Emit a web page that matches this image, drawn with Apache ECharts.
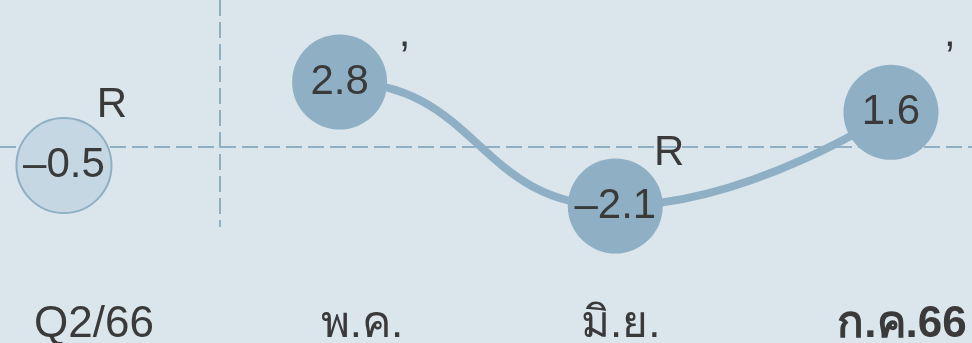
<!DOCTYPE html>
<html lang="th">
<head>
<meta charset="UTF-8">
<title>chart</title>
<script src="https://cdn.jsdelivr.net/npm/echarts@6/dist/echarts.min.js"></script>
<style>
  html, body { margin: 0; padding: 0; background: #dae5ec; }
  #chart { width: 972px; height: 343px; }
</style>
</head>
<body>
<div id="chart"></div>
<script type="text/javascript">
// ข้อมูล
var categories = ['Q2/66', 'พ.ค.', 'มิ.ย.', 'ก.ค.66'];
var values = [-0.5, 2.8, -2.1, 1.6];
var status = ['R', 'R', 'R', 'P'];
// ตำแหน่งป้ายบนแกน x (หน่วยของลำดับ)
var labelPos = [0.109, 1.081, 2.02, 3.04];
// ตำแหน่งของตัวอักษร R / P เทียบกับจุด
var statusOffset = [[48, -60], [65, -48], [54, -53], [59, -78]];

var lineColor = '#8fb0c4';
var lightFill = '#c5d7e2';
var textColor = '#3a3a3a';
var font = 'Liberation Sans';

var chart = echarts.init(document.getElementById('chart'));

// จุดแรก (ไตรมาส) ใช้สีอ่อน
var lineData = values.map(function (v, i) {
  if (i === 0) {
    return {
      value: [i, v],
      itemStyle: { color: lightFill, borderColor: lineColor, borderWidth: 2 }
    };
  }
  return [i, v];
});

var yMin = -2.93, yMax = 6.04;

// ซ่อนเส้นช่วง Q2/66 -> พ.ค. (ตัดภายในวงกลม พ.ค.)
var lineGradient = new echarts.graphic.LinearGradient(0, 0, 972, 0, [
  { offset: 0, color: 'rgba(143,176,196,0)' },
  { offset: 0.35, color: 'rgba(143,176,196,0)' },
  { offset: 0.35, color: lineColor },
  { offset: 1, color: lineColor }
], true);

var option = {
  backgroundColor: '#dae5ec',
  animation: false,
  grid: { left: 0, right: 0, top: 0, bottom: 116, outerBoundsMode: 'none' },
  xAxis: {
    type: 'value',
    min: -0.232,
    max: 3.294,
    axisLine: { show: false },
    axisTick: { show: false },
    splitLine: { show: false },
    axisLabel: {
      customValues: labelPos,
      margin: 76,
      color: textColor,
      fontFamily: font,
      fontSize: 44,
      formatter: function (v) {
        var i = Math.round(v);
        return i === categories.length - 1 ? '{b|' + categories[i] + '}' : categories[i];
      },
      rich: {
        b: { fontWeight: 'bold', fontSize: 44, fontFamily: font, color: textColor }
      }
    }
  },
  yAxis: {
    type: 'value',
    min: yMin,
    max: yMax,
    show: false
  },
  series: [
    {
      type: 'line',
      data: lineData,
      smooth: 0.5,
      symbol: 'circle',
      symbolSize: 95,
      z: 4,
      lineStyle: { width: 8, color: lineGradient },
      itemStyle: { color: lineColor, opacity: 1 },
      label: {
        show: true,
        position: 'inside',
        color: textColor,
        fontFamily: font,
        fontSize: 42,
        formatter: function (p) { return p.value[1].toFixed(1).replace('-', '–'); }
      },
      markLine: {
        silent: true,
        symbol: 'none',
        z: 1,
        label: { show: false },
        lineStyle: { color: lineColor, width: 2, type: [16, 6] },
        data: [
          { yAxis: 0.233 },
          [{ coord: [0.566, yMax] }, { coord: [0.566, yMin] }]
        ]
      }
    }
  ]
};

chart.setOption(option);

// ตัวอักษร R / P วางตามพิกัดของแกน
var statusText = values.map(function (v, i) {
  var pt = chart.convertToPixel({ gridIndex: 0 }, [i, v]);
  return {
    type: 'text',
    z: 100,
    silent: true,
    x: pt[0] + statusOffset[i][0],
    y: pt[1] + statusOffset[i][1],
    style: {
      text: status[i],
      fill: textColor,
      font: '42px "Liberation Sans", Arial, sans-serif',
      align: 'center',
      verticalAlign: 'middle'
    }
  };
});
chart.setOption({ graphic: statusText });
</script>
</body>
</html>
